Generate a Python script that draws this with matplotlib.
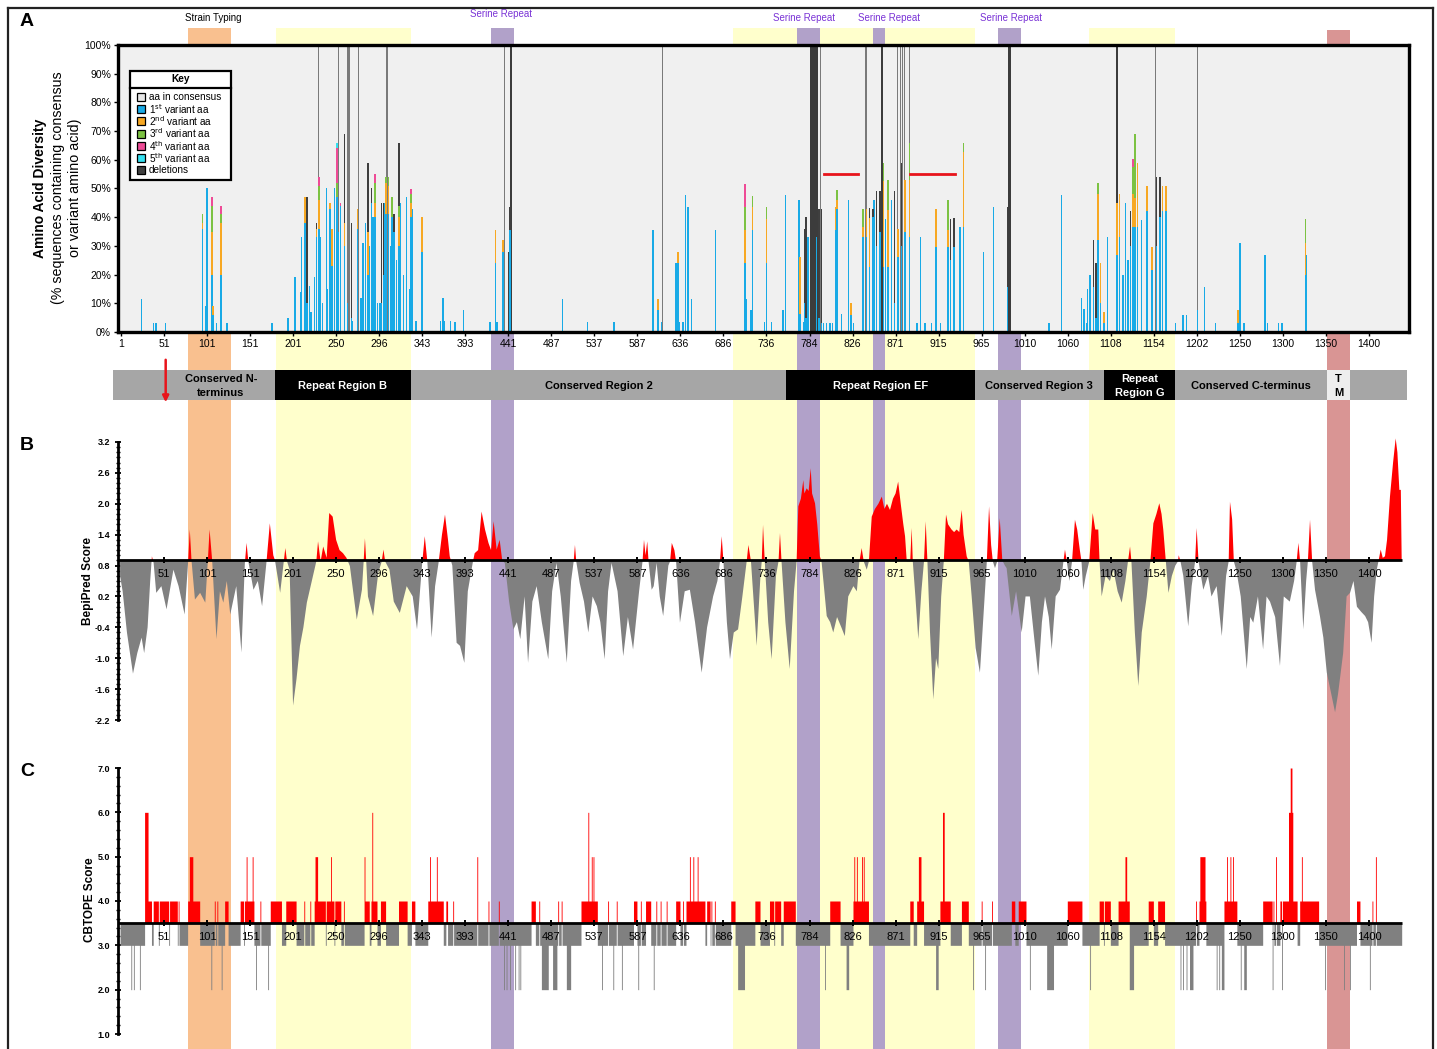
import numpy as np
import matplotlib.pyplot as plt
from matplotlib.patches import Rectangle
from matplotlib.lines import Line2D
from matplotlib.ticker import MultipleLocator

plt.rcParams['font.family'] = ['Liberation Sans', 'DejaVu Sans']

# =========================
# DATA
# =========================

tick_labels = ["1", "51", "101", "151", "201", "250", "296", "343", "393", "441",
               "487", "537", "587", "636", "686", "736", "784", "826", "871", "915",
               "965", "1010", "1060", "1108", "1154", "1202", "1250", "1300", "1350", "1400"]

# panel A: variant stacks (% of sequences) at alignment positions
a_pos = [25, 39, 42, 53, 96, 99, 101, 107, 108, 112, 117, 124, 176, 177, 195, 203, 210, 211, 215, 217,
         220, 222, 226, 228, 231, 233, 235, 240, 241, 244, 246, 249, 252, 254, 256, 261, 264, 269, 270, 276,
         280, 282, 285, 288, 290, 292, 294, 296, 299, 302, 304, 306, 308, 309, 312, 314, 316, 318, 321, 324,
         326, 329, 333, 336, 338, 340, 344, 351, 372, 375, 377, 384, 389, 399, 430, 436, 438, 445, 451, 453,
         514, 543, 574, 619, 625, 629, 646, 648, 650, 654, 657, 660, 664, 692, 726, 728, 733, 735, 749, 751,
         757, 770, 773, 789, 790, 794, 795, 797, 799, 809, 812, 815, 817, 821, 825, 828, 831, 833, 838, 846,
         849, 852, 863, 867, 871, 875, 876, 879, 883, 887, 889, 892, 896, 900, 904, 908, 912, 917, 926, 930,
         935, 943, 948, 953, 962, 965, 969, 976, 980, 1003, 1015, 1031, 1079, 1094, 1117, 1120, 1123, 1124, 1127, 1131,
         1134, 1136, 1139, 1143, 1147, 1158, 1161, 1165, 1168, 1171, 1174, 1177, 1179, 1182, 1187, 1193, 1199, 1204, 1208, 1211,
         1215, 1226, 1235, 1239, 1252, 1260, 1273, 1299, 1301, 1302, 1306, 1330, 1333, 1346, 1350, 1377, 1378]
a_v1 = [11.6, 3, 3, 3, 36, 9, 50, 20, 6, 3, 20, 3, 3, 3, 5, 19, 14, 33, 38, 10,
        16, 7, 19, 33, 36, 33, 10, 50, 15, 43, 23, 50, 47, 35, 44, 30, 10, 5, 4, 36,
        12, 31, 38, 20, 30, 45, 40, 40, 10, 10, 10, 20, 45, 41, 41, 30, 40, 35, 25, 30,
        45, 20, 47, 15, 40, 43, 4, 28, 4, 12, 4, 4, 3.5, 7.5, 3.5, 24, 3.5, 28, 0, 35.5,
        11.6, 3.5, 3.5, 35.5, 7.5, 3.5, 24, 24, 3.5, 3.5, 47.7, 43.6, 11.6, 35.5, 24, 11.6, 7.5, 35.5, 3.5, 24,
        3.5, 7.5, 47.7, 46, 6.4, 3.5, 10, 5, 33, 33, 5, 3, 3, 3, 3, 3, 35.5, 43, 6.4, 46,
        6, 3, 33, 33, 22.6, 40, 46, 30, 35, 22.6, 39.5, 22.6, 46, 10, 26, 30, 35, 33, 3, 33,
        3, 3, 29.6, 3, 29.6, 25, 29.6, 36.6, 36.6, 28, 43.6, 15.7, 3, 47.7, 12, 8, 3, 15, 20, 15.7,
        5, 32, 10, 3, 33, 27, 33, 20, 45, 25, 30, 36.6, 36.6, 36.6, 39, 42, 21.5, 30, 40, 42,
        42, 3, 6, 6, 7.5, 15.7, 3, 3, 31, 31, 3, 27, 3, 3, 3, 20, 27]

a_v2_pos = [96, 107, 108, 117, 215, 228, 231, 244, 246, 261, 276, 288, 296, 309, 312, 324, 338, 351,
            436, 445, 625, 648, 726, 735, 751, 790, 831, 833, 849, 863, 867, 871, 887, 892, 904, 912,
            917, 948, 962, 980, 1136, 1139, 1143, 1158, 1161, 1177, 1179, 1182, 1193, 1199, 1211, 1215,
            1299, 1377]
a_v2 = [2, 15, 3, 18, 9, 3, 10, 2, 13, 8, 7, 15, 5, 11, 10, 10, 5, 12,
        11.5, 4, 4, 4, 11.5, 8, 15.5, 19.8, 8, 3, 4, 3.5, 10, 17, 30, 20, 10, 18,
        20, 13.4, 6, 26.2, 16, 14, 4, 18, 15, 11.6, 10, 22.4, 9, 8, 9, 9,
        4.5, 11]
a_v3_pos = [96, 107, 117, 231, 252, 296, 309, 312, 316, 324, 338, 726, 735, 751, 833, 863, 887,
            892, 917, 962, 980, 1136, 1177, 1179, 1377]
a_v3 = [3, 9, 3, 5, 5, 7, 2, 3, 7, 4, 3, 8, 4, 4, 3.5, 6.4, 6.4,
        10.4, 13, 10.4, 3.2, 4, 9.3, 22.4, 8.5]
a_v4_pos = [107, 117, 231, 252, 256, 296, 338, 726, 1177]
a_v4 = [3, 3, 3, 12, 1, 3, 2, 8, 2.7]
a_v5_pos = [252]
a_v5 = [2]
a_del_pos = [217, 228, 261, 269, 288, 292, 304, 306, 318, 324, 451, 453, 795, 797, 812, 815, 871,
             875, 879, 883, 900, 908, 965, 969, 1031, 1131, 1134, 1174, 1204, 1208]
a_del = [37, 2, 31, 33, 24, 5, 35, 25, 6, 22, 28, 8, 26, 35, 38, 40, 3.5,
         3, 19, 14, 39, 29, 14.5, 10, 27.9, 16.3, 19, 12, 24, 14]

# full-height gap columns and their span in residues
a_full_pos = [231, 253.5, 264, 266, 277, 310, 446.4, 453.8, 630.4, 806, 814, 866.6, 884.8,
              901.5, 903, 907, 909, 911, 917, 1033, 1128, 1138.5, 1158, 1203, 1207, 1214, 1252, 1264]
a_full_span = [1, 1.2, 1.2, 1.5, 1, 1.5, 1, 2.5, 1, 9.5, 1, 1.5, 2.5,
               1, 1, 1, 1, 1, 1, 3.5, 1, 1, 2.5, 1, 1, 1, 1, 1]

# red bars marking repeat stretches (start, end, %)
a_red_start = [818, 918]
a_red_end = [857, 970]
a_red_level = [55.2, 55.2]

# panel B: BepiPred profile (position, score)
b_pos = [0, 3, 8, 15, 20, 25, 28, 32, 35, 37, 39, 42, 48, 54, 62, 68, 75, 79, 81, 83,
         87, 93, 99, 102, 104, 107, 112, 116, 120, 124, 128, 135, 141, 145, 147, 149, 155, 160, 165, 170,
         174, 178, 180, 186, 190, 192, 194, 197, 201, 205, 209, 213, 217, 224, 228, 230, 233, 236, 240, 243,
         247, 251, 255, 259, 263, 267, 275, 281, 283, 284.5, 286, 288, 294, 300, 304, 306, 308, 313, 318, 325,
         333, 340, 345, 351, 354, 357, 362, 366, 370, 374, 377.5, 381, 383, 386, 391, 395, 400, 404, 410, 412,
         416, 420, 424, 428, 431, 434, 437.5, 441, 444, 447, 452, 457, 461, 465, 470, 474, 479, 484, 490, 497.5,
         502, 507, 512, 519, 524, 527, 528.5, 530, 534, 539, 544, 549, 554, 558, 563, 567, 571, 578, 584.6, 590,
         596, 603, 607, 608.7, 610.5, 612.5, 614, 617.6, 620, 623.4, 627, 631, 637, 639, 641, 644, 646, 650.5, 656, 662,
         668, 675.7, 682, 689, 694, 697, 699, 701, 705, 708.6, 713, 718, 723, 728, 730, 733, 739.6, 744, 745.5, 747,
         749, 753, 757, 762, 765, 766.7, 768.5, 773, 778, 783, 786, 788, 791, 793.8, 795, 797.7, 800, 802.4, 804, 807.4,
         810, 813, 815, 821, 825, 828.6, 833, 838, 842, 846, 852, 856, 859, 861.6, 864, 867.5, 870, 873.3, 877, 881,
         885, 888, 891, 894.5, 898, 901, 904, 907, 910, 912, 914, 918, 919.7, 921, 924, 927.4, 931, 934, 936, 938,
         941, 944.8, 948, 950.6, 954, 957, 959.6, 962, 966, 969, 972, 975, 977.8, 980, 983.6, 986, 989.4, 994, 999, 1003,
         1007, 1009.6, 1012, 1014, 1016.5, 1019, 1022, 1025, 1028, 1030, 1036, 1041, 1047.5, 1052, 1057, 1062, 1066.8, 1071, 1074.6, 1079,
         1082.4, 1087, 1092, 1096, 1097.8, 1100, 1103, 1106, 1109.4, 1112, 1115, 1117, 1119, 1122, 1126, 1130, 1133, 1136.5, 1138, 1140.4,
         1145, 1150, 1154, 1159, 1163.7, 1168, 1171, 1173.4, 1175, 1179, 1183, 1187, 1192.8, 1197, 1200.5, 1204, 1207.4, 1210, 1212, 1215,
         1218, 1222, 1226, 1229, 1230, 1232, 1235.3, 1241, 1245, 1249, 1250.8, 1253, 1258.5, 1264, 1268, 1274, 1280, 1285, 1288, 1289.5,
         1292, 1294, 1297, 1302, 1309, 1313, 1316.6, 1322, 1328, 1332, 1336, 1342, 1347.6, 1352, 1359, 1364, 1367, 1369, 1371, 1374.7,
         1378, 1380, 1382.5, 1385, 1388.3, 1394, 1398, 1402, 1406, 1411.6, 1415, 1421, 1425, 1429, 1433, 1437, 1442, 1446.5, 1450, 1454,
         1457, 1460, 1462, 1464.6, 1467, 1469.6, 1472, 1475.4, 1479, 1482, 1484, 1486.3, 1488, 1489]
b_score = [0.6, 0.3, -0.5, -1.3, -0.9, -0.6, -0.9, -0.4, 0.5, 0.98, 0.85, 0.27, 0.4, -0.05, 0.72, 0.4, -0.15, 0.85, 1.5, 0.9,
           0.14, 0.27, 0.08, 0.9, 1.5, 0.9, -0.63, 0.3, 0.08, 0.5, -0.15, 0.4, -0.89, 0.85, 1.24, 0.88, 0.33, 0.5, 0.01, 0.85,
           1.62, 1.0, 0.9, 0.27, 0.85, 1.14, 0.88, 0.72, -1.92, -1.4, -0.76, -0.4, 0.08, 0.59, 0.88, 1.27, 0.88, 1.17, 0.95, 1.82,
           1.75, 1.3, 1.1, 1.04, 0.95, 0.79, -0.25, 0.33, 0.88, 1.33, 0.88, 0.2, -0.18, 0.66, 0.88, 1.11, 0.88, 0.72, 0.1, -0.12,
           0.4, 0.2, -0.44, 0.85, 1.37, 0.88, -0.6, 0.4, 0.85, 1.4, 1.79, 1.3, 0.98, 0.8, -0.7, -0.76, -1.09, 0.3, 0.88, 1.04,
           1.1, 1.85, 1.5, 1.24, 1.1, 1.66, 1.11, 1.3, 0.9, 0.85, 0.1, -0.44, -0.3, -0.63, 0.2, -1.09, 0.1, 0.4, -0.3, -1.02,
           0.3, 0.85, 0.2, -1.09, 0.5, 0.88, 1.2, 0.88, 0.46, 0.1, -0.5, 0.2, 0.01, -0.3, -1.02, 0.3, 0.85, 0.3, -0.96, -0.2,
           -0.83, 0.3, 0.88, 1.3, 1.0, 1.27, 0.88, 0.33, 0.4, 0.85, 0.2, -0.18, 0.8, 0.88, 1.24, 1.1, 0.88, -0.31, 0.3, 0.33,
           -0.3, -1.28, -0.4, 0.2, 0.5, 0.88, 1.37, 0.88, -0.3, -1.02, -0.5, -0.44, 0.2, 0.88, 1.2, 0.88, -0.76, 0.6, 0.88, 1.59,
           0.88, -0.3, -1.02, 0.6, 0.88, 1.43, 0.88, -0.3, -1.21, 0.3, 0.88, 1.95, 2.1, 2.46, 2.2, 2.3, 2.25, 2.69, 2.2, 2.01,
           1.6, 0.98, 0.88, -0.18, -0.3, -0.5, -0.2, -0.4, -0.57, 0.2, 0.4, 0.3, 0.88, 1.14, 0.88, 0.72, 0.88, 1.75, 1.9, 2.0,
           2.14, 1.9, 2.0, 1.88, 2.1, 2.2, 2.43, 2.0, 1.6, 1.37, 0.88, 0.88, 1.53, 0.88, 0.2, -0.63, 0.3, 0.88, 1.66, 0.88,
           -0.5, -1.8, -1.0, -1.21, 0.2, 0.88, 1.79, 1.6, 1.5, 1.45, 1.5, 1.45, 1.88, 1.4, 0.98, 0.88, 0.2, -0.8, -1.28, -0.2,
           0.88, 1.95, 1.2, 0.88, 0.75, 0.88, 1.72, 0.9, 0.8, 0.75, -0.18, 0.3, -0.5, 0.2, 0.2, -0.6, -1.34, -0.3, 0.2, -0.2,
           -0.83, 0.2, 0.33, 0.88, 1.11, 0.88, 0.5, 0.88, 1.69, 1.5, 1.11, 0.88, 0.33, 0.6, 0.88, 1.82, 1.5, 1.5, 0.88, 0.2,
           0.6, 0.5, 0.72, 0.3, 0.08, 0.5, 0.88, 1.17, 0.88, -0.5, -1.54, -0.5, 0.2, 0.88, 1.62, 1.8, 2.01, 1.8, 1.5, 0.88,
           0.27, 0.6, 0.8, 0.88, 1.0, 0.88, 0.6, -0.38, 0.4, 0.88, 1.53, 0.88, 0.33, 0.6, 0.2, 0.4, -0.57, 0.6, 0.88, 2.04,
           1.7, 0.88, 0.7, 0.2, -1.21, -0.2, -0.31, 0.2, -0.83, 0.2, 0.1, -0.2, -1.15, 0.2, 0.1, 0.5, 0.88, 1.24, 0.88, -0.44,
           0.5, 0.88, 1.69, 0.88, 0.33, -0.18, -0.6, -1.28, -1.6, -2.05, -1.7, -0.9, 0.2, 0.27, 0.5, 0.0, -0.1, -0.18, -0.3, -0.7,
           0.2, 0.72, 0.88, 1.11, 0.95, 0.98, 1.3, 2.14, 2.8, 3.27, 3.0, 2.27, 2.27, 0.9]
b_threshold = 0.9

# panel C: CBTOPE score runs that differ from the usual score of 3
c_default = 3.0
c_start = [29, 33, 39, 46, 58, 68, 79, 81, 110, 113, 122, 140, 145, 147, 154, 163, 175, 181, 193, 214,
           221, 226, 227, 240, 245, 250, 260, 284, 285, 292, 293, 303, 324, 339, 358, 360, 368, 372, 379, 387,
           415, 428, 440, 478, 487, 509, 513, 536, 544, 548, 550, 567, 577, 597, 605, 611, 623, 628, 635, 646,
           654, 658, 662, 666, 671, 682, 687, 691, 710, 738, 755, 761, 771, 825, 852, 853, 856, 862, 864, 918,
           926, 928, 953, 956, 978, 1001, 1013, 1036, 1044, 1101, 1138, 1144, 1160, 1168, 1195, 1206, 1250, 1254, 1255, 1283,
           1286, 1290, 1293, 1328, 1343, 1348, 1356, 1358, 1360, 1371, 1373, 1437, 1455, 1459,
           13, 16, 23, 106, 118, 158, 172, 446, 449, 453, 459, 463, 465, 490, 503, 519, 560, 573, 583, 602,
           620, 718, 819, 844, 948, 991, 1005, 1057, 1077, 1127, 1173, 1232, 1235, 1239, 1243, 1274, 1277, 1280, 1302, 1306,
           1339, 1350, 1400, 1422, 1429, 1452]
c_end = [33, 36, 44, 56, 66, 68, 92, 84, 110, 113, 125, 143, 155, 147, 154, 163, 180, 187, 204, 214,
         221, 238, 229, 248, 245, 256, 260, 284, 289, 298, 293, 308, 333, 342, 373, 360, 368, 375, 380, 387,
         415, 428, 440, 482, 487, 509, 513, 554, 544, 548, 550, 567, 577, 600, 605, 616, 623, 628, 635, 650,
         654, 679, 662, 666, 671, 685, 687, 691, 714, 743, 759, 767, 784, 836, 869, 853, 856, 862, 864, 921,
         933, 930, 964, 957, 985, 1001, 1013, 1039, 1052, 1117, 1142, 1150, 1172, 1169, 1200, 1213, 1250, 1261, 1260, 1297,
         1286, 1290, 1293, 1340, 1343, 1355, 1367, 1362, 1361, 1392, 1373, 1440, 1455, 1459,
         13, 16, 23, 106, 118, 158, 172, 446, 449, 453, 459, 463, 465, 497, 507, 523, 560, 573, 583, 602,
         620, 725, 819, 846, 950, 991, 1005, 1057, 1084, 1127, 1177, 1232, 1235, 1239, 1246, 1274, 1277, 1282, 1302, 1308,
         1339, 1350, 1400, 1422, 1429, 1452]
c_score = [6, 4, 4, 4, 4, 4, 4, 5, 4, 4, 4, 4, 4, 5, 5, 4, 4, 4, 4, 4,
           4, 4, 5, 4, 5, 4, 4, 5, 4, 4, 6, 4, 4, 4, 4, 5, 5, 4, 4, 4,
           5, 4, 4, 4, 4, 4, 4, 4, 6, 5, 5, 4, 4, 4, 4, 4, 4, 4, 4, 4,
           4, 4, 5, 5, 5, 4, 4, 4, 4, 4, 4, 4, 4, 4, 4, 5, 5, 5, 5, 4,
           4, 5, 4, 6, 4, 4, 4, 4, 4, 4, 4, 4, 4, 5, 4, 4, 4, 4, 5, 4,
           5, 5, 5, 4, 5, 4, 4, 6, 7, 4, 5, 4, 4, 5,
           2, 2, 2, 2, 2, 2, 2, 2, 2, 2, 2, 2, 2, 2, 2, 2, 2, 2, 2, 2,
           2, 2, 2, 2, 2, 2, 2, 2, 2, 2, 2, 2, 2, 2, 2, 2, 2, 2, 2, 2,
           2, 2, 2, 2, 2, 2]
c_threshold = 3.5
seq_end = 1489

# annotation regions (alignment positions)
strain_band = (78.8, 128.8)
repeat_band_start = [181.1, 712.1, 1125.7]
repeat_band_end = [337.9, 993.2, 1225.6]
serine_band_start = [430.9, 786.4, 874.7, 1019.9]
serine_band_end = [457.6, 813.1, 888.6, 1046.7]
tm_band = (1402.2, 1428.9)
serine_label_x = [442.5, 794.6, 893.4, 1035.0]

region_start = [-8, 180, 338, 773.7, 993.2, 1143, 1225.6, 1402, 1429]
region_end = [180, 338, 773.7, 993.2, 1143, 1225.6, 1402, 1429, 1495]
region_name = ["Conserved N-\nterminus", "Repeat Region B", "Conserved Region 2", "Repeat Region EF",
               "Conserved Region 3", "Repeat\nRegion G", "Conserved C-terminus", "T\nM", ""]
region_label_x = [117, 259, 556, 883.5, 1068, 1184.3, 1313.8, 1415.5, 1462]
region_kind = ["cons", "rep", "cons", "rep", "cons", "rep", "cons", "tm", "cons"]
start_codon_pos = 53

# =========================
# LAYOUT HELPERS
# =========================

W, H = 1437, 1049
XMIN, XMAX = -2.4, 1497.5
AX_L, AX_R = 118, 1409


def rect(top, bottom):
    return [AX_L / W, 1 - bottom / H, (AX_R - AX_L) / W, (bottom - top) / H]


fig = plt.figure(figsize=(W / 100, H / 100), dpi=100)
tick_pos = 1 + 50 * np.arange(len(tick_labels))

# background layer: coloured bands and region bar (y in pixels)
ax_bg = fig.add_axes([AX_L / W, 0, (AX_R - AX_L) / W, 1])
ax_bg.set_xlim(XMIN, XMAX)
ax_bg.set_ylim(H, 0)
ax_bg.axis('off')

band_top = 28
ax_bg.add_patch(Rectangle((strain_band[0], band_top), strain_band[1] - strain_band[0], H,
                          color='#F9C08F', lw=0, zorder=1))
for s, e in zip(repeat_band_start, repeat_band_end):
    ax_bg.add_patch(Rectangle((s, band_top), e - s, H, color='#FFFFCC', lw=0, zorder=1))
for s, e in zip(serine_band_start, serine_band_end):
    ax_bg.add_patch(Rectangle((s, band_top), e - s, H, color='#B1A1C9', lw=0, zorder=2))
ax_bg.add_patch(Rectangle((tm_band[0], band_top + 2), tm_band[1] - tm_band[0], H,
                          color='#D99594', lw=0, zorder=1))

ax_bg.text(108, 18, "Strain Typing", ha='center', va='center', fontsize=7)
for i, x in enumerate(serine_label_x):
    ax_bg.text(x, 14 if i == 0 else 18, "Serine Repeat", ha='center', va='center',
               fontsize=7, color='#7A33D6')

kind_color = {"cons": '#A6A6A6', "rep": '#000000', "tm": '#EEEEEE'}
for s, e, name, lx, k in zip(region_start, region_end, region_name, region_label_x, region_kind):
    ax_bg.add_patch(Rectangle((s, 370), e - s, 30, color=kind_color[k], lw=0, zorder=3, clip_on=False))
    ax_bg.text(lx, 386, name, ha='center', va='center', fontsize=8, fontweight='bold',
               color='white' if k == "rep" else 'black', zorder=4, linespacing=1.55)

ax_bg.annotate('', xy=(start_codon_pos, 405), xytext=(start_codon_pos, 357),
               arrowprops=dict(arrowstyle='-|>', color='#E8141B', lw=1.8, mutation_scale=9),
               zorder=5)

# =========================
# PANEL A
# =========================

ax_a = fig.add_axes(rect(45, 332), facecolor='#F0F0F0')
ax_a.set_xlim(XMIN, XMAX)
ax_a.set_ylim(0, 100)

assert len(a_pos) == len(a_v1)
full_col = ['#3C3C3C' if s >= 2 else '#7A7A7A' for s in a_full_span]
ax_a.bar(a_full_pos, 100, width=a_full_span, color=full_col, lw=0, zorder=2)

stack = {p: 0.0 for p in a_pos}
series = [(a_pos, a_v1, '#19AAE6'), (a_v2_pos, a_v2, '#F7A823'), (a_v3_pos, a_v3, '#7CC242'),
          (a_v4_pos, a_v4, '#EE4B96'), (a_v5_pos, a_v5, '#33E0F0'), (a_del_pos, a_del, '#3F3F3F')]
for pos, vals, col in series:
    bottoms = [stack[p] for p in pos]
    ax_a.bar(pos, vals, bottom=bottoms, width=1.7, color=col, lw=0, zorder=3)
    for p, v in zip(pos, vals):
        stack[p] += v

for s, e, lv in zip(a_red_start, a_red_end, a_red_level):
    ax_a.plot([s, e], [lv, lv], color='#E8141B', lw=2, zorder=4)

ax_a.set_yticks(np.arange(0, 101, 10))
ax_a.set_yticklabels([f"{v}%" for v in range(0, 101, 10)], fontsize=7.5)
ax_a.set_xticks(tick_pos)
ax_a.set_xticklabels(tick_labels, fontsize=7.5)
ax_a.tick_params(axis='both', length=3, width=1, pad=2)
for sp in ax_a.spines.values():
    sp.set_linewidth(2.4)
    sp.set_zorder(6)

# key
kt = ax_a.transAxes
ax_a.add_patch(Rectangle((0.0093, 0.530), 0.0782, 0.379, transform=kt, facecolor='white',
                         edgecolor='black', lw=1.6, zorder=7))
ax_a.add_line(Line2D([0.0093, 0.0875], [0.850, 0.850], transform=kt, color='black', lw=1.6, zorder=8))
ax_a.text(0.0484, 0.880, "Key", transform=kt, ha='center', va='center', fontsize=7.3,
          fontweight='bold', zorder=8)
key_labels = ["aa in consensus", r"1$^{\mathrm{st}}$ variant aa", r"2$^{\mathrm{nd}}$ variant aa",
              r"3$^{\mathrm{rd}}$ variant aa", r"4$^{\mathrm{th}}$ variant aa",
              r"5$^{\mathrm{th}}$ variant aa", "deletions"]
key_colors = ['#E6E6E6', '#19AAE6', '#F7A823', '#7CC242', '#EE4B96', '#33E0F0', '#3F3F3F']
for i, (lab, col) in enumerate(zip(key_labels, key_colors)):
    yk = 0.819 - i * 0.0425
    ax_a.add_patch(Rectangle((0.0148, yk - 0.014), 0.0058, 0.028, transform=kt,
                             facecolor=col, edgecolor='black', lw=0.9, zorder=8))
    ax_a.text(0.0238, yk, lab, transform=kt, ha='left', va='center', fontsize=7.2, zorder=8)

# =========================
# PANEL B
# =========================

ax_b = fig.add_axes(rect(442, 720))
ax_b.patch.set_alpha(0)
ax_b.set_xlim(XMIN, XMAX)
ax_b.set_ylim(-2.2, 3.2)
bx = np.array(b_pos)
by = np.array(b_score)
ax_b.fill_between(bx, by, b_threshold, where=by >= b_threshold, interpolate=True,
                  color='#FF0000', lw=0, clip_on=False, zorder=2)
ax_b.fill_between(bx, by, b_threshold, where=by <= b_threshold, interpolate=True,
                  color='#808080', lw=0, clip_on=False, zorder=2)
ax_b.plot([XMIN, seq_end], [b_threshold, b_threshold], color='black', lw=2, zorder=3,
          solid_capstyle='butt')
ax_b.plot(tick_pos[1:], [b_threshold] * (len(tick_pos) - 1), ls='none', marker='|',
          ms=4, mew=1.4, color='black', zorder=3)
for x, lab in zip(tick_pos[1:], tick_labels[1:]):
    ax_b.text(x, 0.645, lab, ha='center', va='center', fontsize=8, zorder=5)

b_ticks = [-2.2, -1.6, -1.0, -0.4, 0.2, 0.8, 1.4, 2.0, 2.6, 3.2]
ax_b.set_yticks(b_ticks)
ax_b.set_yticklabels([f"{v:.1f}" for v in b_ticks], fontsize=6.5, fontweight='bold')
ax_b.yaxis.set_minor_locator(MultipleLocator(0.1))
ax_b.tick_params(axis='y', which='major', direction='inout', length=5, width=1.3, pad=3)
ax_b.tick_params(axis='y', which='minor', direction='inout', length=3, width=1)
ax_b.set_xticks([])
for k in ['top', 'right', 'bottom']:
    ax_b.spines[k].set_visible(False)
ax_b.spines['left'].set_linewidth(2)

# =========================
# PANEL C
# =========================

ax_c = fig.add_axes(rect(768, 1034))
ax_c.patch.set_alpha(0)
ax_c.set_xlim(XMIN, XMAX)
ax_c.set_ylim(1.0, 7.0)
cx = np.arange(0, seq_end + 1)
cs = np.full(cx.size, c_default)
for s, e, v in zip(c_start, c_end, c_score):
    cs[s:e + 1] = v
c_up = np.where(cs > c_threshold, cs, c_threshold)
c_dn = np.where(cs < c_threshold, cs, c_threshold)
ax_c.fill_between(cx, c_threshold, c_up, step='mid', color='#FF0000', lw=0, zorder=2)
ax_c.fill_between(cx, c_threshold, c_dn, step='mid', color='#808080', lw=0, zorder=2)
ax_c.plot([XMIN, seq_end], [c_threshold, c_threshold], color='black', lw=2, zorder=3,
          solid_capstyle='butt')
ax_c.plot(tick_pos[1:], [c_threshold] * (len(tick_pos) - 1), ls='none', marker='|',
          ms=4, mew=1.4, color='black', zorder=3)
for x, lab in zip(tick_pos[1:], tick_labels[1:]):
    ax_c.text(x, 3.18, lab, ha='center', va='center', fontsize=8, zorder=5)

c_ticks = np.arange(1.0, 7.01, 1.0)
ax_c.set_yticks(c_ticks)
ax_c.set_yticklabels([f"{v:.1f}" for v in c_ticks], fontsize=6.5, fontweight='bold')
ax_c.yaxis.set_minor_locator(MultipleLocator(0.2))
ax_c.tick_params(axis='y', which='major', direction='inout', length=5, width=1.3, pad=3)
ax_c.tick_params(axis='y', which='minor', direction='inout', length=3, width=1)
ax_c.set_xticks([])
for k in ['top', 'right', 'bottom']:
    ax_c.spines[k].set_visible(False)
ax_c.spines['left'].set_linewidth(2)

# =========================
# FIGURE TEXT AND FRAME
# =========================

fig.text(40 / W, 1 - 188 / H, "Amino Acid Diversity", rotation=90, ha='center', va='center',
         fontsize=10, fontweight='bold')
fig.text(58 / W, 1 - 188 / H, "(% sequences containing consensus", rotation=90, ha='center',
         va='center', fontsize=10.3)
fig.text(75 / W, 1 - 188 / H, "or variant amino acid)", rotation=90, ha='center', va='center',
         fontsize=10.3)
fig.text(88 / W, 1 - 581 / H, "BepiPred Score", rotation=90, ha='center', va='center',
         fontsize=8.5, fontweight='bold')
fig.text(90 / W, 1 - 900 / H, "CBTOPE Score", rotation=90, ha='center', va='center',
         fontsize=8.5, fontweight='bold')

for lab, py in [("A", 22), ("B", 445), ("C", 771)]:
    fig.text(27 / W, 1 - py / H, lab, ha='center', va='center', fontsize=14, fontweight='bold')

frame_kw = dict(transform=fig.transFigure, color='#222222', lw=1.6)
fig.add_artist(Line2D([8 / W, 8 / W], [0, 1 - 8 / H], **frame_kw))
fig.add_artist(Line2D([1433 / W, 1433 / W], [0, 1 - 8 / H], **frame_kw))
fig.add_artist(Line2D([8 / W, 1433 / W], [1 - 8 / H, 1 - 8 / H], **frame_kw))

fig.savefig("out.png", dpi=100)
